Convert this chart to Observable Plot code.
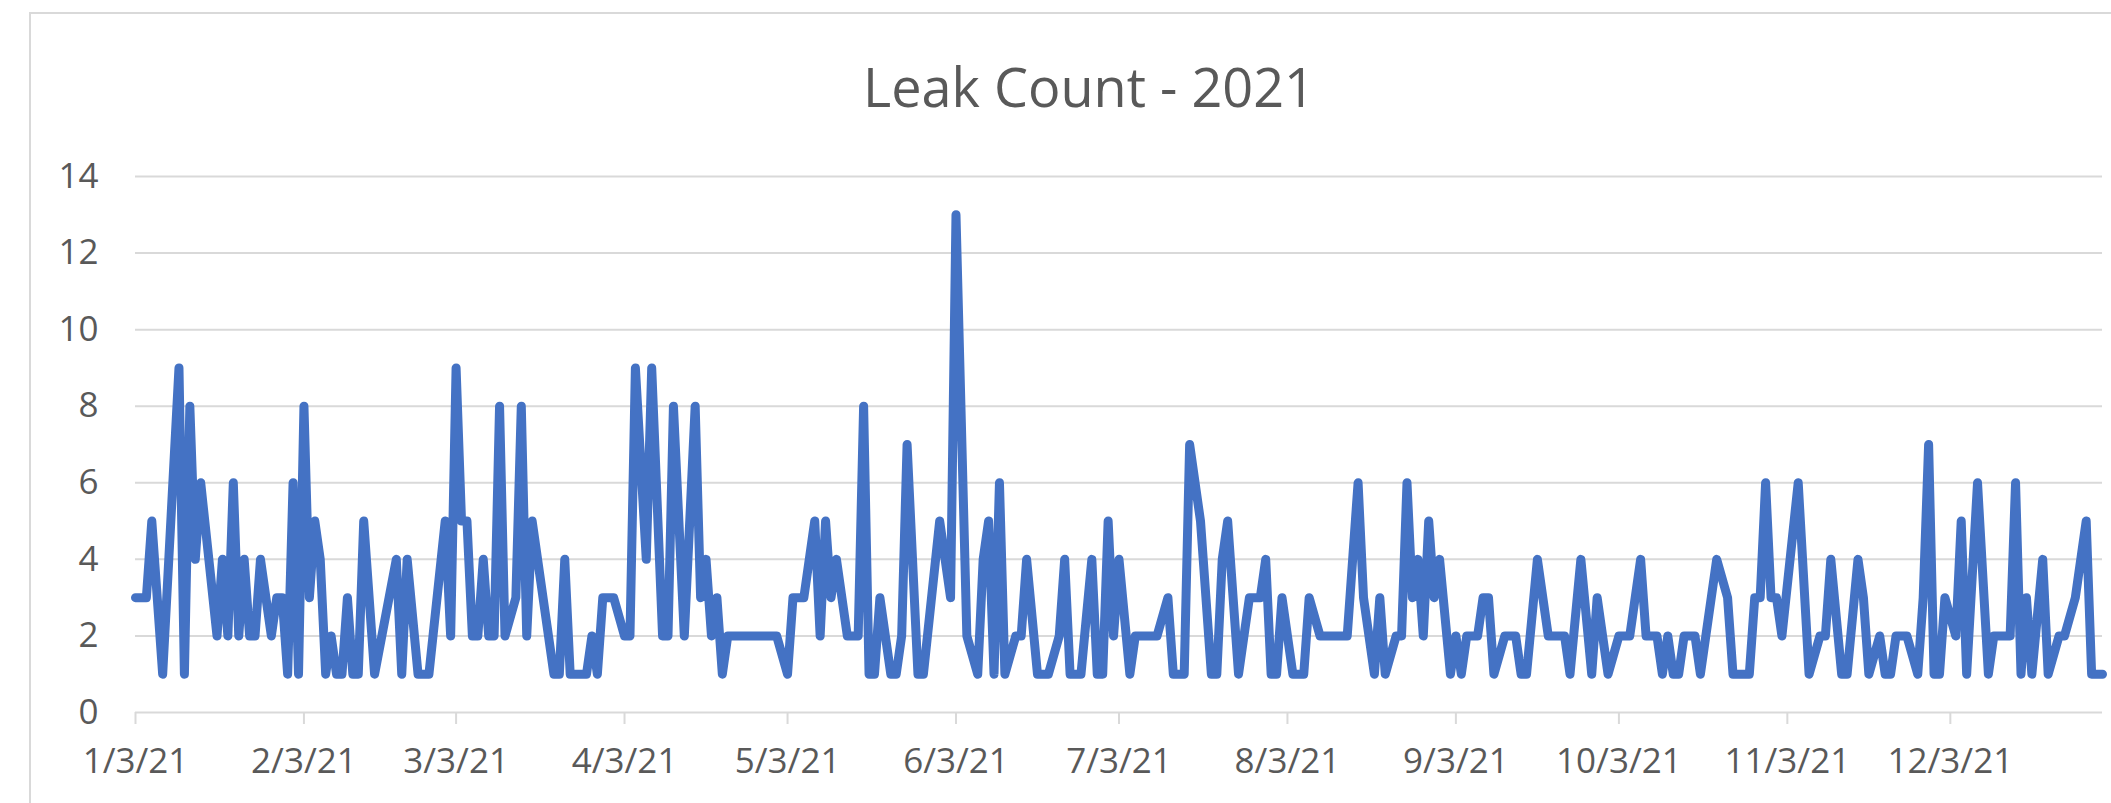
<!DOCTYPE html>
<html>
<head>
<meta charset="utf-8">
<script src="https://cdn.jsdelivr.net/npm/d3@7"></script>
<script src="https://cdn.jsdelivr.net/npm/@observablehq/plot@0.6"></script>
<style>
  html, body { margin: 0; padding: 0; background: #fff; width: 2111px; height: 803px; overflow: hidden; }
  body { position: relative; font-family: "Open Sans", sans-serif; }
  #frame { position: absolute; left: 29px; top: 12px; width: 3000px; height: 2000px; border: 2px solid #d9d9d9; box-sizing: border-box; pointer-events: none; }
  #title { position: absolute; left: 0; top: 0; width: 2178px; height: 130px; line-height: 172px; text-align: center; font-size: 54px; color: #595959; font-family: "Open Sans", sans-serif; white-space: nowrap; }
  #chart { position: absolute; left: 0; top: 130px; }
</style>
</head>
<body>
<div id="frame"></div>
<div id="title">Leak Count - 2021</div>
<div id="chart"></div>
<script>
// Daily leak counts (day of month / count)
const janDays  = [3,5,6,8,11,12,13,14,15,18,19,20,21,22,23,24,25,26,28,29,30,31];
const janLeaks = [3,3,5,1,9,1,8,4,6,2,4,2,6,2,4,2,2,4,2,3,3,1];
const febDays  = [1,2,3,4,5,6,7,8,9,10,11,12,13,14,16,20,21,22,24,26];
const febLeaks = [6,1,8,3,5,4,1,2,1,1,3,1,1,5,1,4,1,4,1,1];
const marDays  = [1,2,3,4,5,6,7,8,9,10,11,12,14,15,16,17,21,22,23,24,27,28,29,30];
const marLeaks = [5,2,9,5,5,2,2,4,2,2,8,2,3,8,2,5,1,1,4,1,1,2,1,3];
const aprDays  = [1,3,4,5,7,8,10,11,12,14,16,17,18,19,20,21,22];
const aprLeaks = [3,2,2,9,4,9,2,2,8,2,8,3,4,2,3,1,2];
const mayDays  = [1,3,4,6,8,9,10,11,12,14,16,17,18,19,20,22,23,24,25,27,28,31];
const mayLeaks = [2,1,3,3,5,2,5,3,4,2,2,8,1,1,3,1,1,2,7,1,1,5];
const junDays  = [2,3,5,7,8,9,10,11,12,14,15,16,18,20,22,23,24,26,28,29,30];
const junLeaks = [3,13,2,1,4,5,1,6,1,2,2,4,1,1,2,4,1,1,4,1,1];
const julDays  = [1,2,3,5,6,10,12,13,15,16,18,20,21,22,23,25,27,29,30,31];
const julLeaks = [5,2,4,1,2,2,3,1,1,7,5,1,1,4,5,1,3,3,4,1];
const augDays  = [1,2,4,6,7,9,14,16,17,19,20,21,23,24,25,26,27,28,29,30,31];
const augLeaks = [1,3,1,1,3,2,2,6,3,1,3,1,2,2,6,3,4,2,5,3,4];
const sepDays  = [2,3,4,5,7,8,9,10,12,14,15,16,18,20,23,24,26,28,29];
const sepLeaks = [1,2,1,2,2,3,3,1,2,2,1,1,4,2,2,1,4,1,3];
const octDays  = [1,3,4,5,7,8,10,11,12,13,14,15,17,18,21,23,24,27,28,29,30,31];
const octLeaks = [1,2,2,2,4,2,2,1,2,1,1,2,2,1,4,3,1,1,3,3,6,3];
const novDays  = [1,2,5,7,9,10,11,13,14,16,17,18,20,21,22,23,25,27,28,29,30];
const novLeaks = [3,2,6,1,2,2,4,1,1,4,3,1,2,1,1,2,2,1,3,7,1];
const decDays  = [1,2,4,5,6,8,10,11,14,15,16,17,18,20,21,23,24,26,28,29,31];
const decLeaks = [1,3,2,5,1,6,1,2,2,6,1,3,1,4,1,2,2,3,5,1,1];

const tickLabels = ["1/3/21","2/3/21","3/3/21","4/3/21","5/3/21","6/3/21","7/3/21","8/3/21","9/3/21","10/3/21","11/3/21","12/3/21"];
const yTicks = [0, 2, 4, 6, 8, 10, 12, 14];

const monthDays  = [janDays, febDays, marDays, aprDays, mayDays, junDays, julDays, augDays, sepDays, octDays, novDays, decDays];
const monthLeaks = [janLeaks, febLeaks, marLeaks, aprLeaks, mayLeaks, junLeaks, julLeaks, augLeaks, sepLeaks, octLeaks, novLeaks, decLeaks];

const data = monthDays.flatMap((days, m) =>
  days.map((d, j) => ({ date: new Date(Date.UTC(2021, m, d)), leaks: monthLeaks[m][j] }))
);
const tickDates = tickLabels.map((_, m) => new Date(Date.UTC(2021, m, 3)));

const chart = Plot.plot({
  width: 2111,
  height: 673,
  marginTop: 46,
  marginBottom: 91,
  marginLeft: 135,
  marginRight: 9,
  style: { fontFamily: "'Open Sans', sans-serif", fontSize: "35px", color: "#595959", background: "transparent", overflow: "visible" },
  x: { type: "utc", domain: [new Date(Date.UTC(2021, 0, 3)), new Date(Date.UTC(2021, 11, 31))] },
  y: { domain: [0, 14] },
  marks: [
    Plot.gridY(yTicks.filter(t => t > 0), { stroke: "#d9d9d9", strokeOpacity: 1, strokeWidth: 2 }),
    Plot.ruleY([0], { stroke: "#d9d9d9", strokeWidth: 2 }),
    Plot.axisY({ ticks: yTicks, tickSize: 0, tickPadding: 37, fill: "#595959", fontSize: 35, label: null }),
    Plot.axisX({ ticks: tickDates, tickFormat: d => tickLabels[d.getUTCMonth()], tickSize: 12, tickPadding: 24,
                 stroke: "#d9d9d9", strokeWidth: 2, fill: "#595959", fontSize: 35, label: null }),
    Plot.lineY(data, { x: "date", y: "leaks", stroke: "#4472C4", strokeWidth: 9, strokeLinejoin: "round", strokeLinecap: "round" })
  ]
});
document.getElementById("chart").appendChild(chart);
</script>
</body>
</html>
